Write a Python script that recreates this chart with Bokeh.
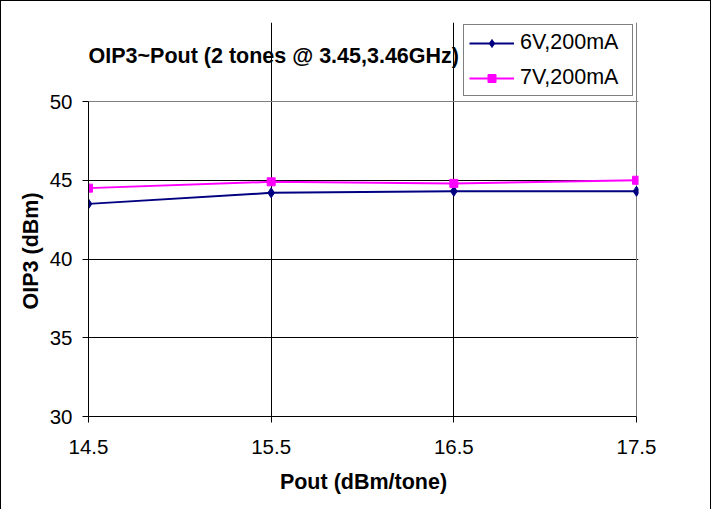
from bokeh.plotting import figure
from bokeh.models import Legend, LegendItem, Label, FixedTicker, Grid, Title
from bokeh.embed import file_html
from bokeh.resources import INLINE

pout = [14.5, 15.5, 16.5, 17.5]
oip3_6v = [43.5, 44.2, 44.3, 44.3]
oip3_7v = [44.5, 44.9, 44.8, 45.0]
y_ticks = [30, 35, 40, 45, 50]
y_grid = [35, 40, 45]
x_grid = [15.5, 16.5]
title_text = "OIP3~Pout (2 tones @ 3.45,3.46GHz)"
x_label = "Pout (dBm/tone)"
y_label = "OIP3 (dBm)"
series_names = ["6V,200mA", "7V,200mA"]

FONT = "Liberation Sans"
X0, X1 = pout[0], pout[-1]
Y0, Y1 = y_ticks[0], y_ticks[-1]

# pixel geometry of the plotting area (inner box)
PX_W, PX_H = 548, 315
ppx = PX_W / (X1 - X0)
ppy = PX_H / (Y1 - Y0)
pad_right, pad_top = 2, 79   # extra frame room for title & legend
x_range = (X0, X1 + pad_right / ppx)
y_range = (Y0, Y1 + pad_top / ppy)

p = figure(width=709, height=508, output_backend="svg", toolbar_location=None,
           x_range=x_range, y_range=y_range,
           frame_width=PX_W + pad_right, frame_height=PX_H + pad_top,
           min_border_left=87, min_border_top=21, min_border_right=72, min_border_bottom=93)
p.styles = {"border-left": "1px solid black", "border-right": "1px solid black",
            "border-top": "1px solid black"}
p.background_fill_color = "white"
p.border_fill_color = "white"
p.outline_line_color = None

p.xaxis.ticker = FixedTicker(ticks=pout)
p.yaxis.ticker = FixedTicker(ticks=y_ticks)
p.xaxis.bounds = (X0, X1)
p.yaxis.bounds = (Y0, Y1)
for ax in (p.xaxis[0], p.yaxis[0]):
    ax.axis_line_color = "black"
    ax.major_tick_line_color = "black"
    ax.major_tick_out = 6
    ax.major_tick_in = 0
    ax.minor_tick_line_color = None
    ax.major_label_text_font = FONT
    ax.major_label_text_font_size = "20.5px"
    ax.major_label_text_color = "black"
    ax.axis_label_text_font = FONT
    ax.axis_label_text_font_size = "21.5px"
    ax.axis_label_text_font_style = "bold"
    ax.axis_label_text_color = "black"
p.xaxis.axis_label = x_label
p.xaxis.major_label_standoff = 17
p.xaxis.axis_label_standoff = 13
p.yaxis.major_label_standoff = 10

# y-axis title, centred on the 30..50 span rather than the whole frame
ytitle = Title(text=y_label, text_font=FONT, text_font_size="21.5px", text_font_style="bold",
               text_color="black", align="left", offset=107, vertical_align="bottom", standoff=7)
p.add_layout(ytitle, "left")

p.xgrid.ticker = FixedTicker(ticks=x_grid)
p.ygrid.ticker = FixedTicker(ticks=y_grid)
p.xgrid.bounds = (Y0, Y1)
p.ygrid.bounds = (X0, X1)
p.xgrid.grid_line_color = "black"
p.ygrid.grid_line_color = "black"
p.xgrid.grid_line_width = 1
p.ygrid.grid_line_width = 1

# gray border of the plotting area (top and right edges)
top_edge = Grid(dimension=1, ticker=FixedTicker(ticks=[Y1]), bounds=(X0, X1),
                grid_line_color="#808080", grid_line_width=1)
right_edge = Grid(dimension=0, ticker=FixedTicker(ticks=[X1]), bounds=(Y0, Y1),
                  grid_line_color="#808080", grid_line_width=1)
p.add_layout(top_edge)
p.add_layout(right_edge)

l1 = p.line(pout, oip3_6v, line_color="#000080", line_width=2)
m1 = p.scatter(pout, oip3_6v, marker="diamond", size=10, fill_color="#000080", line_color="#000080")
l2 = p.line(pout, oip3_7v, line_color="#FF00FF", line_width=2)
m2 = p.scatter(pout, oip3_7v, marker="square", size=8, fill_color="#FF00FF", line_color="#FF00FF")

legend = Legend(items=[LegendItem(label=series_names[0], renderers=[l1, m1]),
                       LegendItem(label=series_names[1], renderers=[l2, m2])],
                location=(375, 320), orientation="vertical")
legend.label_text_font = FONT
legend.label_text_font_size = "21.5px"
legend.label_text_color = "black"
legend.border_line_color = "black"
legend.border_line_width = 1
legend.background_fill_color = "white"
legend.background_fill_alpha = 1
legend.glyph_width = 45
legend.glyph_height = 20
legend.label_height = 24
legend.label_width = 107
legend.label_standoff = 6
legend.padding = 5
legend.spacing = 10
legend.margin = 0
p.add_layout(legend, "center")

title = Label(x=X0, y=Y1 + 46 / ppy, text=title_text,
              text_font=FONT, text_font_size="21.5px", text_font_style="bold",
              text_align="left", text_baseline="middle", text_color="black")
p.add_layout(title)

open("out.html", "w").write(file_html(p, INLINE))
